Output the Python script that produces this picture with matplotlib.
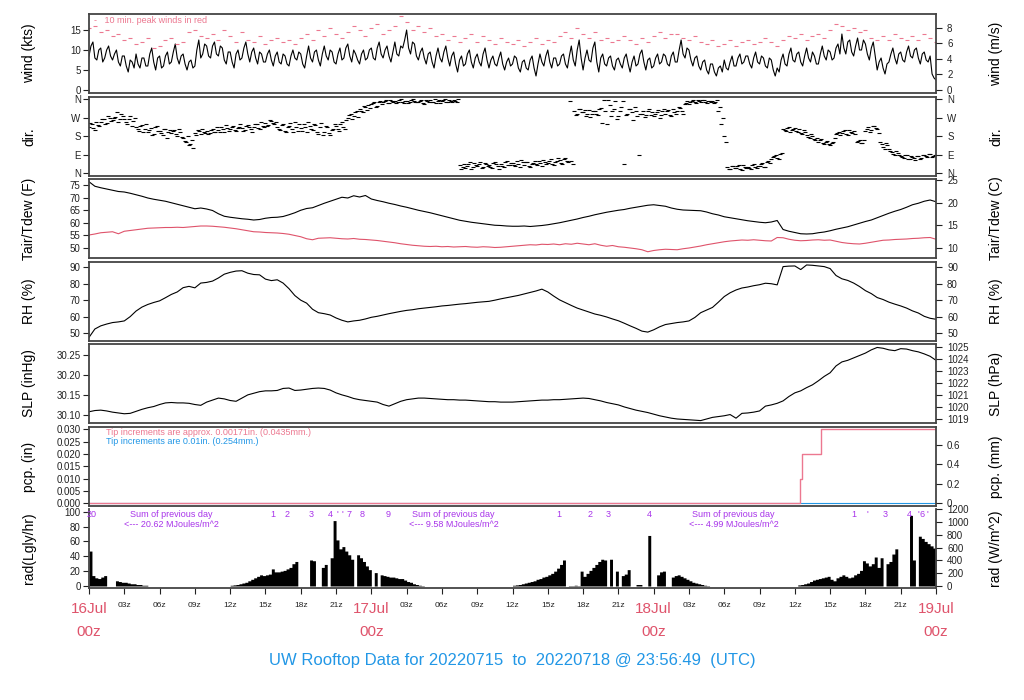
import numpy as np
import matplotlib
matplotlib.use("Agg")
import matplotlib.pyplot as plt
import matplotlib.transforms as mtrans

plt.rcParams['font.family'] = ['Liberation Sans', 'DejaVu Sans']

# ---------------- data (hours from 16Jul 00z) ----------------
# wind speed (kts), every 10 min (6 per hour)
wind_kts = [8.5, 11.0, 12.0, 8.0, 7.5, 10.0,   10.5, 7.0, 8.0, 10.0, 11.0, 8.5,
            7.5, 9.0, 10.0, 7.0, 6.0, 8.5,     8.5, 6.0, 4.5, 7.5, 7.0, 5.5,
            9.0, 6.5, 5.5, 8.0, 8.0, 6.0,      6.0, 9.0, 10.5, 7.0, 5.0, 8.0,
            8.5, 5.5, 6.0, 8.5, 9.5, 6.5,      7.0, 9.5, 11.5, 8.0, 6.5, 8.5,
            9.0, 6.5, 5.0, 7.0, 7.5, 5.5,      6.0, 10.0, 12.5, 8.0, 9.0, 11.5,
            11.0, 8.5, 8.0, 11.0, 12.0, 9.0,   8.5, 11.0, 10.5, 7.5, 6.5, 9.5,
            9.5, 7.0, 5.5, 9.0, 10.0, 7.5,     8.0, 10.5, 12.0, 9.0, 7.0, 9.5,
            10.5, 8.0, 6.5, 9.5, 9.0, 7.0,     7.0, 9.0, 10.0, 7.5, 6.0, 8.5,
            9.5, 7.0, 6.5, 9.0, 8.5, 6.5,      6.0, 8.5, 10.0, 8.0, 7.5, 9.5,
            9.0, 6.5, 5.5, 8.5, 11.0, 8.0,     7.0, 9.5, 10.0, 7.5, 6.0, 9.0,
            11.0, 8.5, 7.5, 10.0, 9.5, 7.0,    6.5, 9.0, 10.5, 7.5, 8.0, 10.5,
            11.5, 8.5, 7.0, 10.0, 9.0, 7.5,    6.5, 9.0, 10.0, 7.5, 8.0, 10.0,
            10.5, 8.0, 7.5, 10.5, 12.0, 9.0,   8.0, 10.0, 11.0, 8.5, 7.0, 9.5,
            12.0, 9.0, 8.5, 11.0, 10.5, 12.5,  15.0, 10.5, 9.0, 12.0, 11.5, 8.5,
            7.5, 9.5, 10.5, 8.0, 6.5, 9.0,     9.5, 7.0, 5.5, 8.5, 10.5, 8.0,
            7.0, 9.5, 11.0, 8.0, 6.0, 8.5,     9.5, 6.5, 4.5, 7.5, 8.5, 6.0,
            6.5, 9.0, 10.0, 7.0, 5.5, 8.0,     9.0, 7.0, 6.0, 9.0, 10.5, 7.5,
            5.5, 7.5, 8.5, 6.5, 6.0, 8.0,      9.5, 6.5, 5.0, 7.0, 8.0, 6.0,
            6.5, 8.5, 8.0, 5.5, 4.5, 7.0,      7.5, 5.5, 5.0, 7.5, 8.5, 5.5,
            3.5, 6.5, 9.0, 7.0, 6.0, 8.5,      10.0, 7.0, 5.5, 8.0, 8.0, 6.0,
            6.5, 8.5, 9.0, 6.5, 5.5, 8.5,      11.0, 7.5, 6.0, 10.0, 12.5, 8.0,
            5.0, 8.0, 10.0, 7.5, 7.0, 10.5,    12.0, 7.0, 4.5, 8.0, 9.0, 6.5,
            6.0, 8.0, 8.5, 6.0, 5.0, 7.5,      8.0, 6.5, 5.5, 8.0, 9.0, 6.5,
            4.5, 7.0, 8.5, 6.0, 6.5, 9.0,      10.0, 7.0, 5.0, 7.5, 8.0, 5.5,
            6.0, 8.0, 9.0, 6.5, 7.0, 9.0,      8.5, 6.5, 6.0, 8.5, 9.5, 7.0,
            7.0, 10.0, 12.5, 9.0, 8.0, 10.5,   10.0, 7.5, 6.0, 8.0, 8.5, 6.0,
            5.0, 7.0, 7.5, 5.0, 4.0, 6.5,      6.5, 4.5, 3.5, 5.5, 6.0, 4.5,
            7.5, 5.5, 5.0, 7.0, 8.5, 6.0,      6.0, 8.0, 9.0, 6.5, 7.0, 8.5,
            8.5, 6.5, 5.5, 8.0, 9.5, 7.0,      6.5, 8.5, 8.0, 6.0, 5.5, 8.0,
            7.5, 5.0, 3.5, 5.5, 4.5, 7.5,      9.0, 6.5, 6.0, 9.0, 10.5, 7.5,
            7.0, 9.0, 9.5, 7.0, 6.0, 8.5,      10.5, 8.0, 7.0, 9.5, 8.5, 6.5,
            6.5, 9.0, 11.0, 8.5, 7.5, 10.0,    9.5, 7.5, 8.0, 10.5, 11.5, 9.0,
            14.0, 10.5, 9.0, 12.0, 12.5, 9.5,  8.5, 11.0, 13.0, 10.0, 10.0, 12.5,
            11.5, 9.0, 7.5, 10.5, 12.0, 8.5,   5.0, 7.0, 8.0, 5.5, 4.0, 6.5,
            7.0, 9.0, 10.5, 8.0, 6.5, 9.0,     9.5, 7.5, 7.0, 9.5, 11.0, 8.5,
            8.0, 10.0, 10.5, 8.0, 6.5, 9.0,    9.5, 7.5, 7.0, 8.5, 4.0, 3.0,
            2.5]

# 10 min peak winds (kts), every 30 min
gust_kts = [15.5, 16.0, 14.5, 15.0, 13.5, 14.0, 12.5, 13.0,
            11.5, 12.0, 13.0, 10.5, 11.0, 12.5, 13.0, 11.5,
            12.0, 14.5, 15.0, 13.5, 13.0, 14.0, 12.5, 15.0,
            13.5, 12.0, 14.5, 12.5, 12.0, 13.5, 11.5, 12.5,
            13.0, 12.0, 12.5, 11.5, 13.0, 14.0, 12.5, 15.0,
            13.5, 15.5, 14.0, 13.0, 14.5, 16.0, 15.0, 13.5,
            15.5, 16.5, 14.0, 15.0, 16.0, 18.5, 17.0, 15.0,
            16.0, 14.5, 15.5, 13.5, 14.0, 12.5, 13.5, 12.0,
            13.0, 14.0, 12.0, 13.5, 12.5, 11.5, 13.0, 12.0,
            11.5, 12.5, 11.0, 12.0, 13.0, 11.5, 12.5, 12.0,
            13.5, 14.5, 13.0, 15.5, 14.0, 13.0, 14.5, 12.5,
            13.0, 12.0, 12.5, 13.5, 12.5, 11.5, 13.0, 12.0,
            13.5, 14.5, 13.0, 14.0, 14.0, 13.0, 12.5, 13.5,
            12.0, 11.5, 12.5, 11.0, 11.5, 12.5, 11.0, 12.0,
            12.5, 11.5, 12.0, 13.0, 12.0, 11.0, 12.5, 13.5,
            13.0, 14.0, 12.5, 13.5, 14.0, 13.0, 15.0, 16.5,
            16.0, 15.0, 15.5, 14.5, 15.0, 13.0, 12.5, 13.5,
            12.5, 14.0, 13.0, 12.5, 13.5, 12.5, 14.0, 13.0,
            12.0]

# wind direction (deg, 0 = N), every 15 min from 00:00
dir_deg = [225, 240, 210, 235, 250, 262, 245, 270, 258, 275, 250, 290,
           262, 240, 280, 255, 225, 205, 235, 215, 200, 220, 190, 230,
           205, 185, 215, 200, 195, 210, 180, 200, 170, 150, 135, 160,
           195, 210, 190, 200, 205, 195, 215, 200, 210, 225, 200, 220,
           215, 230, 205, 225, 220, 210, 235, 215, 225, 240, 215, 230,
           245, 235, 255, 240, 225, 210, 240, 200, 230, 215, 250, 205,
           220, 240, 200, 230, 210, 235, 190, 245, 200, 225, 185, 215,
           230, 205, 250, 215, 270, 290, 280, 300, 310, 295, 320, 330,
           335, 345, 325, 350, 345, 355, 340, 350, 350, 345, 358, 340,
           352, 345, 360, 348, 345, 355, 338, 350, 355, 348, 342, 357,
           350, 358, 345, 352, 355, 345, 40, 30, 25, 45, 20, 50,
           35, 55, 30, 45, 40, 25, 55, 35, 45, 30, 60, 40,
           50, 35, 45, 65, 40, 55, 30, 50, 45, 60, 35, 55,
           50, 70, 40, 60, 65, 45, 75, 55, 60, 300, 290, 310,
           295, 280, 305, 290, 300, 285, 315, 355, 240, 330, 300, 350,
           280, 320, 45, 290, 310, 260, 300, 90, 290, 275, 300, 285,
           280, 295, 270, 300, 290, 305, 280, 295, 300, 315, 290, 340,
           335, 350, 345, 355, 348, 355, 340, 352, 350, 345, 300, 240,
           180, 30, 20, 35, 25, 40, 15, 30, 30, 20, 45, 25,
           35, 50, 30, 60, 70, 85, 75, 95, 215, 205, 225, 210,
           220, 200, 195, 210, 185, 170, 180, 160, 150, 165, 140, 155,
           135, 150, 190, 200, 195, 210, 185, 200, 205, 150, 160, 145,
           205, 225, 210, 230, 215, 150, 130, 145, 120, 105, 90, 100,
           85, 75, 90, 70, 80, 65, 85, 75, 90, 80, 95, 85,
           90]
# wind direction, every 15 min from 00:07
dir_deg_b = [245, 220, 250, 230, 265, 240, 280, 255, 270, 295, 262, 280,
             250, 265, 230, 270, 215, 230, 200, 240, 210, 185, 225, 205,
             195, 215, 170, 210, 205, 190, 215, 175, 155, 180, 140, 125,
             185, 205, 215, 195, 190, 210, 200, 225, 200, 215, 235, 205,
             225, 210, 220, 240, 205, 230, 225, 200, 240, 220, 250, 225,
             230, 260, 245, 250, 215, 235, 205, 225, 245, 200, 225, 240,
             205, 225, 250, 215, 240, 200, 225, 185, 230, 195, 210, 240,
             215, 240, 225, 260, 285, 265, 295, 275, 300, 325, 305, 315,
             340, 320, 345, 335, 350, 340, 357, 345, 342, 355, 348, 352,
             340, 356, 350, 344, 352, 342, 356, 346, 345, 358, 350, 340,
             356, 348, 355, 346, 350, 358, 20, 45, 35, 55, 30, 40,
             45, 25, 50, 35, 30, 50, 45, 20, 35, 55, 40, 50,
             40, 60, 30, 55, 55, 35, 45, 60, 40, 50, 65, 45,
             60, 45, 55, 75, 50, 70, 60, 350, 45, 285, 310, 295,
             305, 290, 275, 300, 290, 310, 245, 300, 355, 280, 310, 265,
             300, 350, 285, 310, 295, 320, 280, 290, 300, 285, 310, 295,
             290, 305, 285, 310, 300, 285, 310, 290, 320, 300, 335, 350,
             345, 355, 340, 350, 356, 345, 352, 348, 342, 355, 320, 270,
             150, 20, 35, 25, 35, 20, 40, 25, 25, 40, 30, 35,
             45, 30, 55, 50, 80, 90, 70, 100, 210, 220, 200, 215,
             205, 215, 190, 200, 175, 190, 165, 170, 160, 145, 150, 140,
             145, 170, 195, 185, 205, 190, 210, 195, 190, 155, 145, 160,
             215, 200, 230, 220, 195, 140, 120, 135, 110, 95, 110, 90,
             80, 90, 70, 85, 75, 85, 70, 90, 85, 95, 80, 90]

# air temperature / dew point (F), every 30 min
tair_f = [76.4, 74.6, 74.0, 73.5, 73.0, 72.5, 72.3, 71.8, 71.2, 70.6, 69.9, 69.4,
          69.0, 68.6, 68.0, 67.4, 66.8, 66.2, 65.6, 65.9, 65.5, 64.9, 63.6, 62.6,
          62.2, 61.9, 61.6, 61.4, 61.1, 61.3, 61.8, 62.1, 62.2, 62.5, 63.2, 64.0,
          65.0, 65.7, 66.0, 66.9, 67.8, 68.6, 69.4, 70.2, 69.9, 70.8, 70.3, 70.9,
          69.5, 68.9, 68.4, 67.8, 67.3, 66.7, 66.2, 65.6, 65.0, 64.5, 64.0, 63.4,
          62.8, 62.2, 61.6, 61.0, 60.6, 60.2, 59.9, 59.6, 59.3, 59.0, 58.9, 58.7,
          58.6, 58.6, 58.7, 58.5, 58.7, 58.9, 59.2, 59.6, 60.0, 60.5, 61.0, 61.5,
          62.1, 62.6, 63.2, 63.7, 64.2, 64.6, 65.0, 65.3, 65.8, 66.2, 66.6, 67.0,
          67.2, 66.9, 66.6, 65.9, 65.4, 65.1, 65.0, 64.9, 64.8, 64.3, 63.6, 63.1,
          62.4, 62.0, 61.6, 61.2, 60.8, 60.5, 60.2, 60.0, 60.3, 60.9, 57.3, 56.6,
          56.1, 55.6, 55.5, 55.6, 56.0, 56.3, 56.8, 57.4, 57.9, 58.4, 59.1, 59.8,
          60.5, 61.1, 62.0, 62.9, 63.8, 64.6, 65.3, 66.2, 67.2, 67.8, 68.6, 69.1,
          68.4]
tdew_f = [55.1, 55.5, 56.0, 56.2, 56.4, 55.6, 56.6, 56.9, 57.2, 57.5, 57.8, 57.9,
          58.0, 58.1, 58.1, 58.2, 58.1, 58.3, 58.5, 58.7, 58.7, 58.6, 58.4, 58.2,
          57.9, 57.6, 57.2, 56.8, 56.4, 56.3, 56.1, 56.0, 55.9, 55.7, 55.4, 54.9,
          54.4, 53.6, 53.2, 53.8, 53.9, 54.0, 53.8, 53.6, 53.5, 53.7, 53.4, 53.3,
          53.1, 52.9, 52.6, 52.3, 52.0, 51.6, 51.3, 51.0, 50.8, 50.6, 50.5, 50.6,
          50.4, 50.5, 50.3, 50.4, 50.5, 50.3, 50.2, 50.4, 50.3, 50.1, 50.2, 50.4,
          50.6, 50.8, 51.0, 51.2, 51.1, 51.4, 51.3, 51.5, 51.2, 51.6, 51.4, 51.8,
          51.5, 51.2, 51.6, 51.0, 50.6, 50.9, 50.4, 50.2, 49.9, 49.6, 49.2, 48.4,
          48.9, 49.2, 49.4, 49.3, 49.2, 49.6, 49.9, 50.3, 50.7, 51.2, 51.6, 52.0,
          52.4, 52.7, 52.9, 53.1, 53.0, 53.2, 53.0, 52.8, 52.7, 54.1, 54.0, 53.4,
          53.0, 52.8, 52.9, 53.1, 53.2, 53.0, 53.1, 52.6, 52.1, 51.8, 51.6, 51.5,
          51.8, 52.2, 52.6, 53.0, 53.1, 53.3, 53.4, 53.5, 53.7, 53.8, 54.0, 54.1,
          53.4]

# relative humidity (%), every 30 min
rh_pct = [47.4, 52.5, 54.4, 55.5, 56.4, 56.8, 57.4, 60.0, 63.4, 65.8, 67.4, 68.6,
          69.6, 71.5, 73.5, 75.0, 77.6, 78.4, 77.5, 80.4, 80.8, 81.6, 83.5, 85.8,
          86.9, 87.7, 87.9, 86.4, 85.6, 85.4, 82.8, 81.9, 82.4, 80.4, 77.0, 72.8,
          70.0, 68.2, 64.5, 62.4, 61.8, 61.0, 59.2, 57.8, 56.8, 57.4, 57.8, 58.6,
          59.6, 60.2, 61.0, 61.8, 62.5, 63.2, 63.8, 64.2, 64.8, 65.2, 65.6, 66.0,
          66.5, 66.8, 67.2, 67.6, 67.9, 68.3, 68.7, 69.0, 69.3, 70.0, 70.8, 71.5,
          72.2, 72.9, 73.8, 74.7, 75.6, 76.7, 75.0, 72.5, 70.2, 68.5, 66.8, 65.2,
          64.0, 62.8, 61.6, 60.8, 59.8, 58.6, 57.5, 56.0, 54.4, 52.9, 51.2, 50.6,
          52.0, 53.8, 55.2, 55.8, 56.4, 56.8, 57.4, 59.5, 62.4, 64.0, 65.6, 68.8,
          72.2, 74.5, 76.2, 77.4, 78.0, 78.8, 79.4, 80.3, 80.0, 79.3, 90.4, 90.7,
          90.8, 88.6, 91.4, 91.2, 90.8, 90.4, 89.2, 85.0, 83.0, 82.0, 80.4, 78.3,
          75.8, 74.0, 71.6, 70.4, 68.8, 67.6, 66.5, 65.2, 63.5, 62.2, 60.2, 59.0,
          58.4]

# sea level pressure (inHg), every 30 min
slp_inhg = [30.108, 30.111, 30.112, 30.110, 30.107, 30.105, 30.103, 30.104,
            30.109, 30.114, 30.118, 30.121, 30.126, 30.130, 30.131, 30.130,
            30.130, 30.129, 30.126, 30.124, 30.132, 30.137, 30.142, 30.140,
            30.136, 30.134, 30.142, 30.150, 30.154, 30.158, 30.160, 30.160,
            30.161, 30.166, 30.167, 30.161, 30.162, 30.164, 30.166, 30.167,
            30.166, 30.162, 30.155, 30.150, 30.146, 30.141, 30.138, 30.136,
            30.134, 30.132, 30.126, 30.122, 30.128, 30.134, 30.138, 30.140,
            30.142, 30.142, 30.141, 30.140, 30.139, 30.138, 30.138, 30.137,
            30.137, 30.136, 30.135, 30.134, 30.133, 30.133, 30.132, 30.132,
            30.132, 30.133, 30.134, 30.135, 30.136, 30.137, 30.137, 30.138,
            30.138, 30.139, 30.140, 30.141, 30.142, 30.141, 30.138, 30.135,
            30.131, 30.128, 30.125, 30.120, 30.116, 30.112, 30.109, 30.106,
            30.102, 30.098, 30.095, 30.092, 30.090, 30.089, 30.088, 30.087,
            30.086, 30.090, 30.094, 30.096, 30.098, 30.101, 30.092, 30.104,
            30.105, 30.107, 30.110, 30.122, 30.125, 30.129, 30.135, 30.146,
            30.155, 30.160, 30.168, 30.175, 30.185, 30.196, 30.205, 30.222,
            30.232, 30.236, 30.242, 30.248, 30.254, 30.262, 30.268, 30.266,
            30.262, 30.260, 30.265, 30.264, 30.260, 30.257, 30.252, 30.246,
            30.236]

# accumulated precipitation (in), step changes
pcp_hours = [0.0, 60.4, 60.6, 62.2, 72.0]
pcp_in = [0.0, 0.01, 0.02, 0.0302, 0.0302]

# solar radiation (Langley/hr), every 15 min
rad_ly = [47, 14, 11, 10, 12, 14, 0, 0, 0, 7, 6, 5, 5, 4, 3, 3, 2, 2, 1, 1,
          0, 0, 0, 0, 0, 0, 0, 0, 0, 0, 0, 0, 0, 0, 0, 0,
          0, 0, 0, 0, 0, 0, 0, 0, 0, 0, 0, 0,
          1, 1.5, 2, 3, 4, 5, 7, 9, 11, 13, 15, 14, 15, 16, 23, 19,
          19, 20, 21, 23, 25, 30, 33, 0, 0, 0, 0, 35, 34, 0, 0, 25,
          29, 0, 38, 88, 62, 50, 53, 47, 42, 36, 0, 42, 38, 33, 27, 22,
          0, 18, 0, 15, 14, 13, 12, 12, 11, 10, 10, 8, 6, 5, 3, 2,
          1, 0.5, 0, 0, 0, 0, 0, 0, 0, 0, 0, 0, 0, 0, 0, 0,
          0, 0, 0, 0, 0, 0, 0, 0, 0, 0, 0, 0, 0, 0, 0, 0,
          1, 1.5, 2, 3, 4, 5, 6, 7, 9, 10, 12, 13, 15, 17, 20, 24,
          29, 35, 0, 0.5, 0.5, 1, 0.5, 20, 13, 17, 21, 25, 29, 33, 36, 35,
          0, 36, 0, 20, 0, 14, 16, 22, 0, 0, 2, 2, 0, 0, 68, 0,
          0, 15, 19, 20, 0, 0, 12, 14, 15, 13, 11, 9, 7, 5, 4, 3,
          2, 1, 0.5, 0, 0, 0, 0, 0, 0, 0, 0, 0, 0, 0, 0, 0,
          0, 0, 0, 0, 0, 0, 0, 0, 0, 0, 0, 0, 0, 0, 0, 0,
          0, 1.5, 2, 3, 4, 6, 8, 9, 10, 11, 12, 13, 9, 7, 11, 13,
          15, 13, 11, 12, 15, 17, 21, 34, 31, 27, 30, 39, 25, 38, 0, 30,
          33, 43, 50, 0, 0, 0, 0, 95, 35, 0, 67, 64, 60, 57, 54, 51,
          47]

# purple markers along the top of the radiation panel
rad_mark_hours = [0.25, 15.6, 16.8, 18.9, 20.5, 21.1, 21.5, 22.1, 23.2, 25.4,
                  39.9, 42.6, 44.1, 47.6, 65.0, 66.2, 67.7, 69.7, 70.5, 70.8, 71.3]
rad_mark_text = ['20', '1', '2', '3', '4', "'", "'", '7', '8', '9',
                 '1', '2', '3', '4', '1', "'", '3', '4', "'", '6', "'"]
rad_sum_hours = [7.0, 31.0, 54.8]
rad_sum_text = ['20.62', '9.58', '4.99']

day_hours = [0, 24, 48, 72]
day_names = ['16Jul', '17Jul', '18Jul', '19Jul']

RED = '#DF536B'
PINK = '#EC7890'
BLUE = '#2297E6'
PURPLE = '#A833EA'

# ---------------- layout ----------------
FW, FH = 1024.0, 700.0
X0, X1 = 89, 936
fig = plt.figure(figsize=(FW / 100, FH / 100), dpi=100)


def add_panel(top, bottom):
    ax = fig.add_axes([X0 / FW, 1 - bottom / FH, (X1 - X0) / FW, (bottom - top) / FH])
    ax.set_xlim(0, 72)
    ax.set_xticks([])
    for s in ax.spines.values():
        s.set_linewidth(1.3)
        s.set_color('#444444')
    ax.tick_params(axis='y', direction='out', length=4, width=0.8,
                   labelsize=7, pad=2, colors='#222222')
    return ax


def add_right(ax, lo, hi, ticks, labels=None):
    r = ax.twinx()
    r.set_ylim(lo, hi)
    r.set_yticks(ticks)
    if labels is not None:
        r.set_yticklabels(labels)
    r.tick_params(axis='y', direction='out', length=4, width=0.8,
                  labelsize=7, pad=4, colors='#222222')
    for s in r.spines.values():
        s.set_visible(False)
    return r


def side_labels(top, bottom, left, right):
    mid = 1 - (top + bottom) / 2 / FH
    fig.text(29 / FW, mid, left, rotation=90, ha='center', va='center', fontsize=10)
    fig.text(996 / FW, mid, right, rotation=90, ha='center', va='center', fontsize=10)


KTS_PER_MS = 1.94384

# wind speed
ax1 = add_panel(14, 93)
ax1.plot(np.linspace(0, 72, len(wind_kts)), wind_kts, color='black', lw=0.8)
ax1.plot(np.linspace(0, 72, len(gust_kts)), gust_kts, ls='none', marker='_',
         ms=3, mew=0.8, color=PINK)
ax1.set_ylim(-0.75, 19.0)
ax1.set_yticks([0, 5, 10, 15])
ax1.text(0.45, 17.4, '-   10 min. peak winds in red', color=PINK, fontsize=6.5,
         ha='left', va='center')
add_right(ax1, -0.75 / KTS_PER_MS, 19.0 / KTS_PER_MS, [0, 2, 4, 6, 8])
side_labels(14, 93, 'wind (kts)', 'wind (m/s)')

# direction
ax2 = add_panel(97, 176)
ax2.plot(np.linspace(0, 72, len(dir_deg)), dir_deg, ls='none', marker='_',
         ms=3.2, mew=0.8, color='black')
ax2.plot(np.linspace(0.125, 71.875, len(dir_deg_b)), dir_deg_b, ls='none',
         marker='_', ms=3.2, mew=0.8, color='black')
ax2.set_ylim(-13, 370)
ax2.set_yticks([0, 90, 180, 270, 360])
ax2.set_yticklabels(['N', 'E', 'S', 'W', 'N'])
add_right(ax2, -13, 370, [0, 90, 180, 270, 360], ['N', 'E', 'S', 'W', 'N'])
side_labels(97, 176, 'dir.', 'dir.')

# temperature
ax3 = add_panel(179, 258)
ax3.plot(np.linspace(0, 72, len(tair_f)), tair_f, color='black', lw=0.8)
ax3.plot(np.linspace(0, 72, len(tdew_f)), tdew_f, color=RED, lw=0.8)
ax3.set_ylim(45.9, 77.5)
ax3.set_yticks([50, 55, 60, 65, 70, 75])
add_right(ax3, (45.9 - 32) / 1.8, (77.5 - 32) / 1.8, [10, 15, 20, 25])
side_labels(179, 258, 'Tair/Tdew (F)', 'Tair/Tdew (C)')

# relative humidity
ax4 = add_panel(262, 341)
ax4.plot(np.linspace(0, 72, len(rh_pct)), rh_pct, color='black', lw=0.8)
ax4.set_ylim(45.2, 93.2)
ax4.set_yticks([50, 60, 70, 80, 90])
add_right(ax4, 45.2, 93.2, [50, 60, 70, 80, 90])
side_labels(262, 341, 'RH (%)', 'RH (%)')

# pressure
ax5 = add_panel(344, 423)
ax5.plot(np.linspace(0, 72, len(slp_inhg)), slp_inhg, color='black', lw=0.8)
ax5.set_ylim(30.080, 30.2766)
ax5.set_yticks([30.10, 30.15, 30.20, 30.25])
ax5.set_yticklabels(['30.10', '30.15', '30.20', '30.25'])
add_right(ax5, 30.080 * 33.8639, 30.2766 * 33.8639, list(range(1019, 1026)))
side_labels(344, 423, 'SLP (inHg)', 'SLP (hPa)')

# precipitation
ax6 = add_panel(427, 506)
ax6.plot([0, 72], [0, 0], color=BLUE, lw=0.8)
ax6.step(pcp_hours, pcp_in, where='post', color=PINK, lw=1.0)
ax6.set_ylim(-0.0011, 0.03093)
pt = [0.0, 0.005, 0.010, 0.015, 0.020, 0.025, 0.030]
ax6.set_yticks(pt)
ax6.set_yticklabels(['%.3f' % v for v in pt])
ax6.text(1.45, 0.0285, 'Tip increments are approx. 0.00171in. (0.0435mm.)',
         color=PINK, fontsize=6.5, ha='left', va='center')
ax6.text(1.45, 0.0249, 'Tip increments are 0.01in. (0.254mm.)',
         color=BLUE, fontsize=6.5, ha='left', va='center')
add_right(ax6, -0.0011 * 25.4, 0.03093 * 25.4, [0, 0.2, 0.4, 0.6],
          ['0', '0.2', '0.4', '0.6'])
side_labels(427, 506, 'pcp. (in)', 'pcp. (mm)')

# radiation
ax7 = add_panel(509, 588)
ax7.spines['top'].set_visible(False)
ax7.fill_between(np.linspace(0, 72, len(rad_ly)), rad_ly, 0, step='post',
                 color='black', lw=0)
ax7.set_ylim(-2.7, 103.6)
ax7.set_yticks([0, 20, 40, 60, 80, 100])
for xh, s in zip(rad_mark_hours, rad_mark_text):
    ax7.text(xh, 95.6, s, color=PURPLE, fontsize=6.5, ha='center', va='center')
for xh, s in zip(rad_sum_hours, rad_sum_text):
    ax7.text(xh, 95.6, 'Sum of previous day', color=PURPLE, fontsize=6.5,
             ha='center', va='center')
    ax7.text(xh, 82.5, '<--- %s MJoules/m^2' % s, color=PURPLE, fontsize=6.5,
             ha='center', va='center')
add_right(ax7, -2.7 * 11.63, 103.6 * 11.63, [0, 200, 400, 600, 800, 1000, 1200])
side_labels(509, 588, 'rad(Lgly/hr)', 'rad (W/m^2)')

xt = list(range(0, 73, 3))
ax7.set_xticks(xt)
ax7.set_xticklabels(['' if v % 24 == 0 else '%02dz' % (v % 24) for v in xt])
ax7.tick_params(axis='x', direction='out', length=4, width=0.8, labelsize=6,
                pad=6, colors='#222222')

trans = mtrans.blended_transform_factory(ax7.transData, fig.transFigure)
for xh, name in zip(day_hours, day_names):
    ax7.text(xh, 1 - 609 / FH, name, transform=trans, color=RED, fontsize=11,
             ha='center', va='center', clip_on=False)
    ax7.text(xh, 1 - 632 / FH, '00z', transform=trans, color=RED, fontsize=11,
             ha='center', va='center', clip_on=False)

fig.text(512 / FW, 1 - 660 / FH,
         'UW Rooftop Data for 20220715  to  20220718 @ 23:56:49  (UTC)',
         color=BLUE, fontsize=12, ha='center', va='center')

fig.savefig('out.png', dpi=100)
